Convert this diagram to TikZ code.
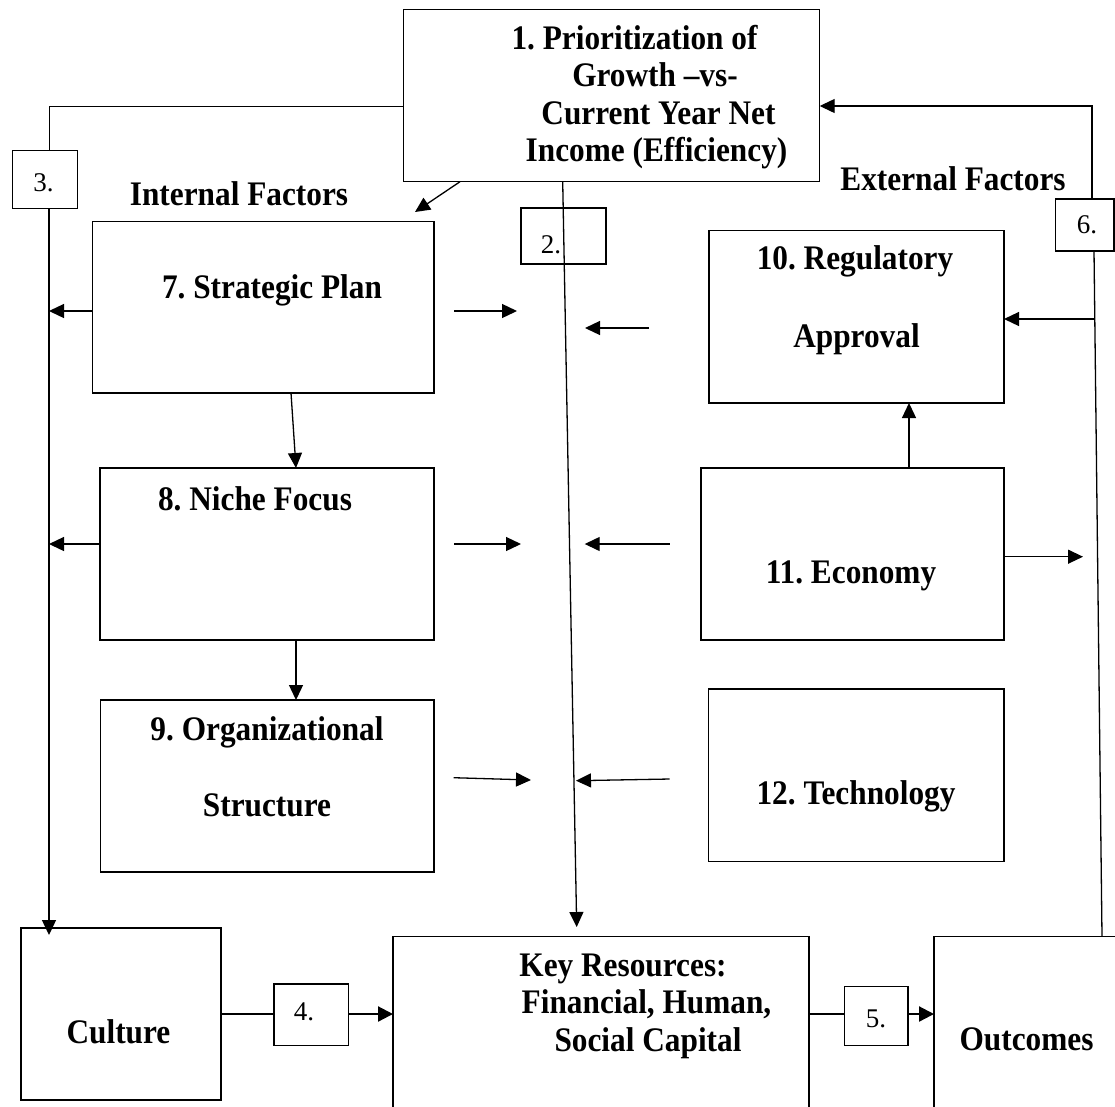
\documentclass[tikz,border=0pt]{standalone}
\usepackage{fontspec}
\usepackage{graphicx}
\setmainfont{Liberation Serif}
\frenchspacing
\usetikzlibrary{arrows.meta,fit}
\newcommand{\vtxt}[1]{\scalebox{1}[1.1]{#1}}
\begin{document}
\begin{tikzpicture}[x=1pt,y=-1pt,
  box/.style={draw,line width=1.3pt,inner sep=0pt,outer sep=0pt},
  ttl/.style={font=\bfseries\fontsize{31.3}{37.5}\selectfont,anchor=base,inner sep=0pt},
  num/.style={font=\fontsize{27}{30}\selectfont,anchor=base,inner sep=0pt},
  con/.style={line width=1.3pt},
  arr/.style={con,-{Triangle[length=15pt,width=14pt]}},
  heavy/.style={line width=2.2pt},
  heavyarr/.style={heavy,-{Triangle[length=15pt,width=15pt]}}]
\clip (0,0) rectangle (1115,1106);
\fill[white] (0,0) rectangle (1115,1106);

% boxes
\node[box,fit={(403.7,9.3)(819.7,181.7)}] (b1) {};
\node[box,fit={(12.7,150.7)(77.3,208.7)}] (b3) {};
\node[box,fit={(521,208)(606,264)}] (b2) {};
\node[box,fit={(1055.7,199)(1114,251)}] (b6) {};
\node[box,fit={(92.7,221.7)(434,393)}] (b7) {};
\node[box,fit={(100,468)(434,640)}] (b8) {};
\node[box,fit={(100.7,700)(434,872)}] (b9) {};
\node[box,fit={(709,230.7)(1004,403)}] (b10) {};
\node[box,fit={(701,468)(1004,640)}] (b11) {};
\node[box,fit={(708.7,689)(1004,861.7)}] (b12) {};
\node[box,fit={(21,928)(221,1100)}] (cul) {};
\node[box,fit={(393,936.7)(809,1140)}] (key) {};
\node[box,fit={(934,936.7)(1140,1140)}] (out) {};
\node[box,fit={(274,984)(348.3,1045.7)}] (b4) {};
\node[box,fit={(844.7,986.7)(908,1045.7)}] (b5) {};

% texts
\node[ttl] (t1a) at (634.5,49) {\vtxt{1. Prioritization of}};
\node[ttl] (t1b) at (655,86.5) {\vtxt{Growth –vs-}};
\node[ttl] (t1c) at (658.5,124) {\vtxt{Current Year Net}};
\node[ttl] (t1d) at (656.5,161.5) {\vtxt{Income (Efficiency)}};
\node[ttl] (tint) at (239,205) {\vtxt{Internal Factors}};
\node[ttl] (text) at (953,190.5) {\vtxt{External Factors}};
\node[ttl] (t7) at (272,298) {\vtxt{7. Strategic Plan}};
\node[ttl] (t8) at (255,510) {\vtxt{8. Niche Focus}};
\node[ttl] (t9a) at (267,740) {\vtxt{9. Organizational}};
\node[ttl] (t9b) at (267,816) {\vtxt{Structure}};
\node[ttl] (t10a) at (855,269) {\vtxt{10. Regulatory}};
\node[ttl] (t10b) at (856.5,347) {\vtxt{Approval}};
\node[ttl] (t11) at (851,583) {\vtxt{11. Economy}};
\node[ttl] (t12) at (856,804) {\vtxt{12. Technology}};
\node[ttl] (tcul) at (118.5,1043) {\vtxt{Culture}};
\node[ttl] (tka) at (623,976.5) {\vtxt{Key Resources:}};
\node[ttl] (tkb) at (646.5,1013.5) {\vtxt{Financial, Human,}};
\node[ttl] (tkc) at (648,1051) {\vtxt{Social Capital}};
\node[ttl] (tout) at (1026.5,1050.5) {\vtxt{Outcomes}};
\node[num] (n3) at (43.5,191.5) {3.};
\node[num] (n2) at (551,253.3) {2.};
\node[num] (n6) at (1087,233.3) {6.};
\node[num] (n4) at (304,1020) {4.};
\node[num] (n5) at (876,1027) {5.};

% connector 3: from box 1 to culture
\coordinate (c3a) at (49,106);
\draw[line width=1pt] (b1.west |- c3a) -- (c3a) -- (c3a |- b3.north);
\draw[arr] (c3a |- b3.south) -- (49,935);

% connector 2: from box 1 to key resources
\coordinate (c2a) at (562.7,181.7);
\coordinate (c2b) at (576.7,927);
\draw[arr] (c2a) -- (c2b);

% box 1 to internal factors
\coordinate (c1a) at (460,181.7);
\coordinate (c1b) at (415,212);
\draw[arr] (c1a) -- (c1b);

% internal factor arrows to the left line
\draw[arr] (b7.west |- 0,311) -- (49,311);
\draw[arr] (b8.west |- 0,544) -- (49,544);
\draw[arr] (291,393) -- (296,468);
\draw[arr] (296,640) -- (296,700);

% middle arrows
\coordinate (m7a) at (454,311); \coordinate (m7b) at (517,311);
\coordinate (m10a) at (649,328); \coordinate (m10b) at (585,328);
\coordinate (m8a) at (454,544); \coordinate (m8b) at (521,544);
\coordinate (m11a) at (669.7,544); \coordinate (m11b) at (584.7,544);
\coordinate (m9a) at (453.7,777.7); \coordinate (m9b) at (531,780);
\coordinate (m12a) at (669.7,779); \coordinate (m12b) at (576,780.7);
\draw[arr] (m7a) -- (m7b);
\draw[arr] (m10a) -- (m10b);
\draw[arr] (m8a) -- (m8b);
\draw[arr] (m11a) -- (m11b);
\draw[arr] (m9a) -- (m9b);
\draw[arr] (m12a) -- (m12b);

% external
\draw[arr] (909,468) -- (909,403);
\coordinate (e11) at (1083,556.7);
\draw[arr] (b11.east |- e11) -- (e11);

% connector 6: outcomes back to box 1
\coordinate (c6a) at (1102,936.7);
\coordinate (c6b) at (1094,251);
\coordinate (c6c) at (1092,199);
\coordinate (c6d) at (1092,106);
\draw[con] (c6a) -- (c6b);
\draw[arr] (c6c) -- (c6d) -- (b1.east |- c6d);
\coordinate (c6e) at (1094.5,319);
\draw[arr] (c6e) -- (b10.east |- c6e);

% bottom row
\coordinate (r1) at (0,1014);
\draw[heavy] (cul.east |- r1) -- (b4.west |- r1);
\draw[heavyarr] (b4.east |- r1) -- (key.west |- r1);
\draw[heavy] (key.east |- r1) -- (b5.west |- r1);
\draw[heavyarr] (b5.east |- r1) -- (out.west |- r1);
\end{tikzpicture}
\end{document}
